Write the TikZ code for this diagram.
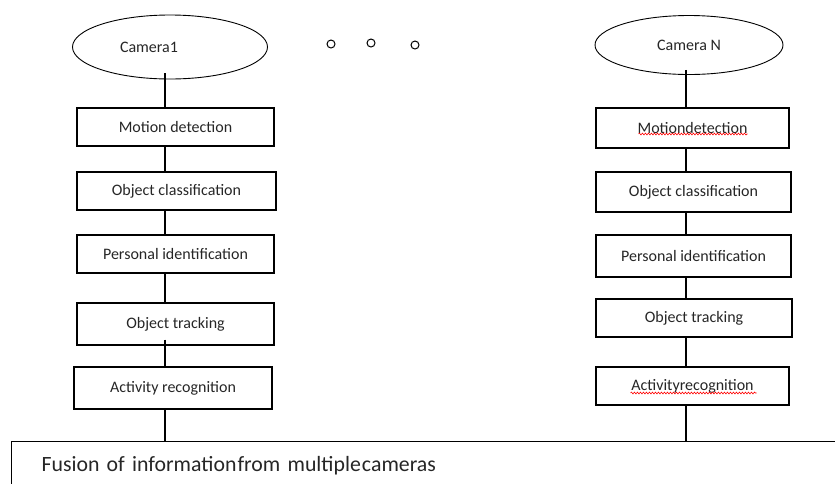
\documentclass[tikz,border=0pt]{standalone}
\usepackage{fontspec}
\setmainfont{Carlito}
\newfontfamily\fusionfont[WordSpace=0.8]{Carlito}
\usetikzlibrary{shapes.geometric,decorations.pathmorphing}
\begin{document}
\begin{tikzpicture}[x=1pt,y=-1pt,
  camera/.style={ellipse,draw,line width=0.9pt,text=black!85,font=\fontsize{16}{18}\selectfont},
  stage/.style={rectangle,draw,line width=1.1pt,inner sep=0pt,text=black!85,font=\fontsize{16}{18}\selectfont},
  link/.style={line width=1.1pt},
  dot/.style={circle,draw,line width=1pt,inner sep=0pt,minimum size=8pt},
  spell/.style={red,line width=0.6pt,decorate,decoration={snake,amplitude=0.9pt,segment length=3pt}}]
\useasboundingbox (0,0) rectangle (835,483);
\clip (0,0) rectangle (835,483);

% first camera chain
\node[camera,minimum width=195pt,minimum height=64pt,
      label={[xshift=-21pt,text=black!85,font=\fontsize{16}{18}\selectfont]center:Camera1}] (cam1) at (170,47) {};
\node[stage,minimum width=197pt,minimum height=38pt] (md1) at (175.5,127) {Motion detection};
\node[stage,minimum width=199pt,minimum height=38pt] (oc1) at (176.5,191) {Object classification};
\node[stage,minimum width=197pt,minimum height=38pt] (pi1) at (175.5,254) {Personal identification};
\node[stage,minimum width=197pt,minimum height=42pt] (ot1) at (175.5,324) {Object tracking};
\node[stage,minimum width=198pt,minimum height=42pt] (ar1) at (173,388) {Activity recognition};

% dots between the cameras
\node[dot] (d1) at (331,44) {};
\node[dot] (d2) at (371,43) {};
\node[dot] (d3) at (415,45) {};

% last camera chain
\node[camera,minimum width=188pt,minimum height=59pt] (camN) at (689,45) {Camera N};
\node[stage,minimum width=193pt,minimum height=40pt] (md2) at (692.5,128) {Motiondetection};
\node[stage,minimum width=195pt,minimum height=40pt] (oc2) at (693.5,192) {Object classification};
\node[stage,minimum width=195pt,minimum height=42pt] (pi2) at (693.5,256) {Personal identification};
\node[stage,minimum width=196pt,minimum height=38pt] (ot2) at (694,318) {Object tracking};
\node[stage,minimum width=193pt,minimum height=38pt] (ar2) at (692.5,386) {Activityrecognition};

% fusion block
\node[stage,anchor=north west,minimum height=48pt,text width=800pt,align=left,
      inner xsep=30pt,font=\fusionfont\fontsize{21.8}{24}\selectfont] (fus) at (11,441)
  {Fusion of information\hspace{0.05em}from multiple\hspace{0.05em}cameras};

% vertical spines
\coordinate (sL) at (165,0);
\coordinate (sR) at (686,0);
\draw[link] ([yshift=6pt]cam1.south -| sL) -- (md1.north -| sL);
\draw[link] (md1.south -| sL) -- (oc1.north -| sL);
\draw[link] (oc1.south -| sL) -- (pi1.north -| sL);
\draw[link] (pi1.south -| sL) -- (ot1.north -| sL);
\draw[link] ([yshift=6pt]ot1.south -| sL) -- (ar1.north -| sL);
\draw[link] (ar1.south -| sL) -- (fus.north -| sL);
\draw[link] ([yshift=5pt]camN.south -| sR) -- (md2.north -| sR);
\draw[link] (md2.south -| sR) -- (oc2.north -| sR);
\draw[link] (oc2.south -| sR) -- (pi2.north -| sR);
\draw[link] (pi2.south -| sR) -- (ot2.north -| sR);
\draw[link] (ot2.south -| sR) -- (ar2.north -| sR);
\draw[link] (ar2.south -| sR) -- (fus.north -| sR);

% spelling marks under the joined words
\draw[spell] ([xshift=-54pt,yshift=-6pt]md2.center) -- ([xshift=55pt,yshift=-6pt]md2.center);
\draw[spell] ([xshift=-62pt,yshift=-7pt]ar2.center) -- ([xshift=64pt,yshift=-7pt]ar2.center);
\end{tikzpicture}
\end{document}
